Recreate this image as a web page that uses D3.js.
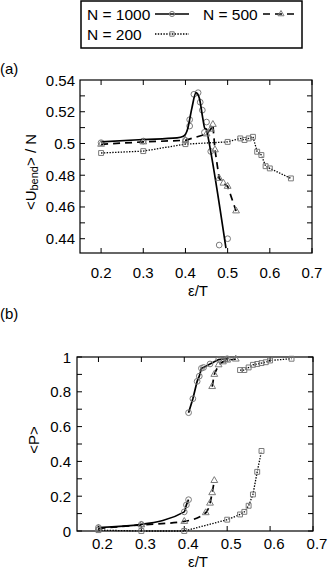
<!DOCTYPE html>
<html>
<head>
<meta charset="utf-8">
<script src="https://cdn.jsdelivr.net/npm/d3@7"></script>
<style>
  body { margin: 0; background: #fff; }
  text { font-family: "Liberation Sans", Arial, sans-serif; fill: #000; }
</style>
</head>
<body>
<svg id="chart" width="333" height="571"></svg>
<script>
// ---- panel (a): <U_bend>/N ----
const u1000X = [0.2, 0.3, 0.4, 0.41, 0.41, 0.42, 0.43, 0.435, 0.44, 0.445, 0.45, 0.46, 0.48, 0.5];
const u1000Y = [0.5005, 0.5015, 0.502, 0.515, 0.511, 0.531, 0.532, 0.526, 0.521, 0.507, 0.5135, 0.495, 0.436, 0.44];
// smooth fitted curve drawn through the N = 1000 points
const fit1000X = [0.2, 0.3, 0.38, 0.395, 0.405, 0.415, 0.425, 0.433, 0.441, 0.446, 0.45, 0.453, 0.496];
const fit1000Y = [0.501, 0.5025, 0.5035, 0.5045, 0.509, 0.522, 0.532, 0.5285, 0.516, 0.5095, 0.509, 0.505, 0.434];
const u500X = [0.2, 0.3, 0.4, 0.45, 0.46, 0.465, 0.47, 0.48, 0.49, 0.5, 0.52];
const u500Y = [0.4995, 0.501, 0.502, 0.506, 0.509, 0.512, 0.496, 0.478, 0.475, 0.473, 0.4575];
const u200X = [0.2, 0.3, 0.4, 0.5, 0.53, 0.54, 0.55, 0.56, 0.57, 0.58, 0.59, 0.6, 0.65];
const u200Y = [0.494, 0.4952, 0.4996, 0.501, 0.5032, 0.5022, 0.5032, 0.5042, 0.4948, 0.4927, 0.4857, 0.4843, 0.478];

// ---- panel (b): <P> ----
const p1000LoX = [0.2, 0.3, 0.4, 0.405, 0.41];
const p1000LoY = [0.02, 0.038, 0.11, 0.15, 0.18];
const p1000HiX = [0.41, 0.42, 0.43, 0.435, 0.44, 0.445, 0.46, 0.48, 0.5];
const p1000HiY = [0.68, 0.76, 0.86, 0.89, 0.935, 0.94, 0.96, 0.985, 0.99];
const p500LoX = [0.2, 0.3, 0.4, 0.45, 0.46, 0.465, 0.47];
const p500LoY = [0.015, 0.035, 0.055, 0.105, 0.16, 0.22, 0.29];
const p500HiX = [0.465, 0.47, 0.48, 0.49, 0.5, 0.52];
const p500HiY = [0.83, 0.9, 0.955, 0.972, 0.982, 0.988];
const p200LoX = [0.2, 0.3, 0.4, 0.5, 0.53, 0.54, 0.55, 0.56, 0.57, 0.58];
const p200LoY = [0.005, 0.0, 0.0, 0.065, 0.095, 0.11, 0.145, 0.21, 0.34, 0.46];
const p200HiX = [0.53, 0.54, 0.55, 0.56, 0.57, 0.58, 0.59, 0.6, 0.65];
const p200HiY = [0.925, 0.925, 0.94, 0.955, 0.96, 0.965, 0.97, 0.98, 0.99];

const xTicks = [0.2, 0.3, 0.4, 0.5, 0.6, 0.7];
const uTicks = [0.44, 0.46, 0.48, 0.5, 0.52, 0.54];
const pTicks = [0, 0.2, 0.4, 0.6, 0.8, 1];

const legendNames = ["N = 1000", "N = 500", "N = 200"];

const svg = d3.select("#chart");
const zip = (xs, ys) => xs.map((x, i) => [x, ys[i]]);
const markerColor = "#7a7a7a";

const styles = {
  n1000: { dash: null, width: 1.7, symbol: d3.symbolCircle, size: 26 },
  n500: { dash: "7,5", width: 1.7, symbol: d3.symbolTriangle, size: 20 },
  n200: { dash: "1.4,1.4", width: 1.3, symbol: d3.symbolSquare, size: 24 }
};

function panel(box, yDomain, yMajor, yMinorStep, fmt, labelDy, labelDx) {
  const x = d3.scaleLinear().domain([0.15, 0.7]).range([box.left, box.right]);
  const y = d3.scaleLinear().domain(yDomain).range([box.bottom, box.top]);
  const g = svg.append("g");

  // frame
  g.append("rect")
    .attr("x", box.left).attr("y", box.top)
    .attr("width", box.right - box.left).attr("height", box.bottom - box.top)
    .attr("fill", "none").attr("stroke", "#000").attr("stroke-width", 1.2);

  const yMinor = d3.range(yDomain[0], yDomain[1] + 1e-9, yMinorStep)
    .map(v => Math.round(v / yMinorStep) * yMinorStep)
    .filter(v => v >= yDomain[0] && v <= yDomain[1]);

  // inward ticks on all four sides
  const tk = g.append("g").attr("stroke", "#000").attr("stroke-width", 1);
  xTicks.forEach(v => {
    tk.append("line").attr("x1", x(v)).attr("x2", x(v)).attr("y1", box.bottom).attr("y2", box.bottom - 5);
    tk.append("line").attr("x1", x(v)).attr("x2", x(v)).attr("y1", box.top).attr("y2", box.top + 5);
  });
  yMinor.forEach(v => {
    tk.append("line").attr("x1", box.left).attr("x2", box.left + 5).attr("y1", y(v)).attr("y2", y(v));
    tk.append("line").attr("x1", box.right).attr("x2", box.right - 5).attr("y1", y(v)).attr("y2", y(v));
  });

  g.selectAll(".xl").data(xTicks).enter().append("text")
    .attr("x", d => x(d) + labelDx)
    .attr("y", box.bottom + labelDy)
    .attr("text-anchor", "middle")
    .attr("dominant-baseline", "central")
    .style("font-size", "15px")
    .text(d => d3.format("")(d));

  g.selectAll(".yl").data(yMajor).enter().append("text")
    .attr("x", box.left - box.yLabelGap)
    .attr("y", d => y(d))
    .attr("text-anchor", "end")
    .attr("dominant-baseline", "central")
    .style("font-size", "15px")
    .text(fmt);

  return { x, y, g };
}

function series(p, pts, st, smooth) {
  const line = d3.line().x(d => p.x(d[0])).y(d => p.y(d[1]));
  if (smooth) line.curve(d3.curveMonotoneX);
  p.g.append("path").datum(pts)
    .attr("d", line)
    .attr("fill", "none").attr("stroke", "#000")
    .attr("stroke-width", st.width)
    .attr("stroke-dasharray", st.dash);
}

function markers(p, pts, st) {
  p.g.selectAll(null).data(pts).enter().append("path")
    .attr("transform", d => `translate(${p.x(d[0])},${p.y(d[1])})`)
    .attr("d", d3.symbol().type(st.symbol).size(st.size))
    .attr("fill", "none").attr("stroke", markerColor).attr("stroke-width", 1);
}

// ---- panel (a) ----
const boxA = { left: 80, right: 312, top: 80, bottom: 253, yLabelGap: 5 };
const pa = panel(boxA, [0.431, 0.54], uTicks, 0.01, d => d3.format("")(d), 19, 0);

markers(pa, zip(u1000X, u1000Y), styles.n1000);
series(pa, zip(fit1000X, fit1000Y), styles.n1000, true);
series(pa, zip(u500X, u500Y), styles.n500);
markers(pa, zip(u500X, u500Y), styles.n500);
series(pa, zip(u200X, u200Y), styles.n200);
markers(pa, zip(u200X, u200Y), styles.n200);

svg.append("text").attr("x", 0).attr("y", 68)
  .attr("dominant-baseline", "central").style("font-size", "15px").text("(a)");

svg.append("text")
  .attr("transform", "translate(30,172) rotate(-90)")
  .attr("text-anchor", "middle")
  .attr("dominant-baseline", "central")
  .style("font-size", "15px")
  .call(t => {
    t.append("tspan").text("<U");
    t.append("tspan").attr("dy", 4).style("font-size", "11px").text("bend");
    t.append("tspan").attr("dy", -4).text("> / N");
  });

svg.append("text").attr("x", 198).attr("y", 290)
  .attr("text-anchor", "middle").attr("dominant-baseline", "central")
  .style("font-size", "15px").text("ε/T");

// ---- panel (b) ----
const boxB = { left: 77, right: 313, top: 357, bottom: 531, yLabelGap: 6 };
const pb = panel(boxB, [0, 1], pTicks, 0.1, d => d3.format("")(d), 12, 4);

series(pb, zip(p1000LoX, p1000LoY), styles.n1000, true);
series(pb, zip(p1000HiX, p1000HiY), styles.n1000);
markers(pb, zip(p1000LoX, p1000LoY), styles.n1000);
markers(pb, zip(p1000HiX, p1000HiY), styles.n1000);
series(pb, zip(p500LoX, p500LoY), styles.n500, true);
series(pb, zip(p500HiX, p500HiY), styles.n500);
markers(pb, zip(p500LoX, p500LoY), styles.n500);
markers(pb, zip(p500HiX, p500HiY), styles.n500);
series(pb, zip(p200LoX, p200LoY), styles.n200);
series(pb, zip(p200HiX, p200HiY), styles.n200);
markers(pb, zip(p200LoX, p200LoY), styles.n200);
markers(pb, zip(p200HiX, p200HiY), styles.n200);

svg.append("text").attr("x", 0).attr("y", 313)
  .attr("dominant-baseline", "central").style("font-size", "15px").text("(b)");

svg.append("text")
  .attr("transform", "translate(33,440) rotate(-90)")
  .attr("text-anchor", "middle")
  .attr("dominant-baseline", "central")
  .style("font-size", "15px")
  .text("<P>");

svg.append("text").attr("x", 198).attr("y", 561)
  .attr("text-anchor", "middle").attr("dominant-baseline", "central")
  .style("font-size", "15px").text("ε/T");

// ---- legend ----
const leg = svg.append("g");
leg.append("rect").attr("x", 81).attr("y", 1).attr("width", 221).attr("height", 47)
  .attr("fill", "#fff").attr("stroke", "#000").attr("stroke-width", 1.5);

const legendItems = [
  { name: legendNames[0], st: styles.n1000, tx: 87, lx: [155, 189], cy: 14 },
  { name: legendNames[1], st: styles.n500, tx: 203, lx: [263, 299], cy: 14 },
  { name: legendNames[2], st: styles.n200, tx: 87, lx: [155, 189], cy: 34 }
];
legendItems.forEach(it => {
  leg.append("text").attr("x", it.tx).attr("y", it.cy)
    .attr("dominant-baseline", "central").style("font-size", "15.5px").text(it.name);
  leg.append("line").attr("x1", it.lx[0]).attr("x2", it.lx[1]).attr("y1", it.cy).attr("y2", it.cy)
    .attr("stroke", "#000").attr("stroke-width", it.st.width).attr("stroke-dasharray", it.st.dash);
  leg.append("path")
    .attr("transform", `translate(${(it.lx[0] + it.lx[1]) / 2},${it.cy})`)
    .attr("d", d3.symbol().type(it.st.symbol).size(it.st.size * 0.8))
    .attr("fill", "none").attr("stroke", markerColor);
});
</script>
</body>
</html>
